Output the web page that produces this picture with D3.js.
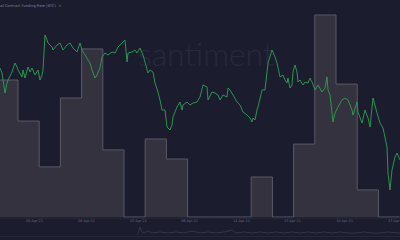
<!DOCTYPE html>
<html>
<head>
<meta charset="utf-8">
<script src="https://cdn.jsdelivr.net/npm/d3@7"></script>
<style>
  html, body { margin: 0; padding: 0; background: #1b1d2e; }
  svg { display: block; }
</style>
</head>
<body>
<svg id="chart" width="400" height="240"></svg>
<script>
const width = 400;
const height = 240;

// funding rate per period (%)
const fundingRate = [0.0678, 0.0475, 0.0248, 0.0589, 0.0832, 0.0332, 0, 0.0386, 0.0287,
    0, 0, 0, 0.0198, 0, 0.0361, 0.1, 0.0658, 0.0134, 0];

// [hours from start, BTC price USD]
const btcPrice = [
    [0,60560],[1,60160],[2.5,58560],[3.5,59360],[4,59600],[6,60240],[7.5,60960],[8.5,60640],[9,60400],
    [11,59840],[11.5,60400],[12.5,59760],[14,60640],[15,60240],[16,60560],[17.5,60000],[19,60400],[20,59600],
    [21,60000],[21.5,60400],[22.5,63200],[23.5,62800],[24,62560],[26,62240],[26.5,62000],[28.5,62400],
    [30,62560],[31.5,62000],[33.5,62400],[35,62560],[36.5,62160],[38.5,61840],[40,62560],[41,62000],
    [42.5,61600],[44,61200],[45,60960],[46,60400],[47.5,59760],[48.5,60000],[50,60560],[51,61440],
    [52.5,61760],[54,61600],[56,61840],[57.5,61760],[59,62240],[61,62560],[62.5,62800],[63.5,61040],
    [64,61760],[66,61840],[67.5,62000],[68.5,61760],[70,62160],[71.5,61600],[72.5,61040],[74,60160],
    [75,60400],[76.5,60240],[77.5,59360],[79,58640],[80,58000],[81,57200],[82.5,57200],[83.5,55840],
    [85,55600],[86,56000],[86.5,56640],[88.5,57440],[90,57840],[91,57200],[91.5,57600],[93.5,57840],
    [95,57600],[96.5,57760],[98.5,57840],[100,58240],[101.5,59200],[103.5,59040],[104,58000],[106,58640],
    [107.5,58560],[109,58400],[110,58000],[111.5,58400],[113.5,58240],[114,58960],[115,58800],[116.5,58400],
    [118.5,57840],[120,57600],[121.5,57040],[123.5,56800],[125,56560],[126,56240],[126.5,56560],[127.5,56400],
    [128.5,57200],[129,57440],[131,58800],[132.5,58800],[134,60960],[136,62000],[137.5,61440],[138.5,60960],
    [140,59840],[141.5,60000],[142.5,59600],[143.5,59360],[144,59760],[145,58960],[146,59200],[146.5,60240],
    [147.5,60800],[148.5,60240],[149,59440],[150,59600],[151.5,59200],[152.5,59440],[154,59360],[155,59760],
    [156,59440],[157.5,58800],[159,59200],[161,58640],[162.5,58960],[163.5,59840],[164,58800],[165,58400],
    [166,56960],[166.5,56240],[167.5,56960],[169,57440],[171,58000],[172.5,58160],[174,58000],[176,57200],
    [176.5,56800],[178.5,57840],[179,57040],[181,56160],[182.5,57200],[184,56560],[185,55840],[186.5,58160],
    [188.5,56960],[190,56160],[191.5,55760],[193.5,54240],[194,52160],[195,50800],[196,52400],[197.5,53440],
    [198.5,53760],[200,53200]
];

// overview strip (long history, arbitrary units)
const overview = [
    [69,2],[70,9],[71,4],[72,3],[74,5],[76,3],[80,4],[84,3],[88,4],[92,3],[96,5],[100,3],[104,4],
    [108,3],[112,4],[116,6],[118,3],[122,4],[126,3],[130,4],[134,3],[138,4],[142,3],[146,4],[150,3],
    [154,4],[158,3],[162,4],[166,3],[170,4],[174,3],[178,3],[182,4],[186,3],[190,3],[194,4],[200,3]
];

const tickHours = [17, 43, 69, 94.5, 120.5, 146, 172, 198];
const tickLabels = ["03 Apr 21", "05 Apr 21", "07 Apr 21", "09 Apr 21",
    "11 Apr 21", "13 Apr 21", "15 Apr 21", "17 Apr 21"];

const svg = d3.select("#chart");
const baseY = 217;

const x = d3.scaleLinear().domain([0, 200]).range([0, width]);
const yPrice = d3.scaleLinear().domain([48640, 66000]).range([baseY, 0]);
const yRate = d3.scaleLinear().domain([0, 0.1]).range([baseY, 15]);
const band = d3.scaleBand().domain(d3.range(fundingRate.length)).range([-3.2, 399.6]);

// title
svg.append("text")
    .attr("x", 56).attr("y", 7.2)
    .attr("text-anchor", "end")
    .attr("fill", "#7d8196")
    .style("font", "3.6px 'DejaVu Sans', sans-serif")
    .text("BitMEX Perpetual Contract Funding Rate (BTC)");
svg.append("text")
    .attr("x", 58.5).attr("y", 7.2)
    .attr("fill", "#7d8196")
    .style("font", "3.6px 'DejaVu Sans', sans-serif")
    .text("×");

// watermark
svg.append("text")
    .attr("x", 206).attr("y", 66)
    .attr("text-anchor", "middle")
    .attr("fill", "#262a3d")
    .style("font", "300 32px Lato, sans-serif")
    .text("santiment");

// funding rate as stepped blocks
const stepData = fundingRate.map((v, i) => [band(i), v]);
stepData.push([band(fundingRate.length - 1) + band.bandwidth(), fundingRate[fundingRate.length - 1]]);

svg.append("path")
    .datum(stepData)
    .attr("fill", "#33323e")
    .attr("d", d3.area().curve(d3.curveStepAfter)
        .x(d => d[0]).y0(baseY).y1(d => yRate(d[1])));

svg.append("path")
    .datum(stepData)
    .attr("fill", "none")
    .attr("stroke", "#5b5867")
    .attr("stroke-width", 1)
    .attr("d", d3.line().curve(d3.curveStepAfter)
        .x(d => d[0]).y(d => yRate(d[1])));

// price line
svg.append("path")
    .datum(btcPrice)
    .attr("fill", "none")
    .attr("stroke", "#2ba24f")
    .attr("stroke-width", 0.9)
    .attr("stroke-linejoin", "round")
    .attr("d", d3.line().x(d => x(d[0])).y(d => yPrice(d[1])));

// x axis
const axis = svg.append("g")
    .attr("transform", `translate(0,${baseY + 0.5})`)
    .call(d3.axisBottom(x).tickValues(tickHours).tickSize(0).tickPadding(2.2)
        .tickFormat((d, i) => tickLabels[i]));
axis.select(".domain").attr("stroke", "#2a2c3c");
axis.selectAll("text")
    .attr("fill", "#6a6e86")
    .style("font", "3.4px 'DejaVu Sans', sans-serif");

// overview strip
const yOv = d3.scaleLinear().domain([0, 10]).range([236, 226]);
svg.append("line")
    .attr("x1", 0).attr("x2", width)
    .attr("y1", 236.5).attr("y2", 236.5)
    .attr("stroke", "#252839");
svg.append("path")
    .datum(overview)
    .attr("fill", "none")
    .attr("stroke", "#3b3f58")
    .attr("stroke-width", 0.7)
    .attr("d", d3.line().x(d => x(d[0])).y(d => yOv(d[1])));
</script>
</body>
</html>
